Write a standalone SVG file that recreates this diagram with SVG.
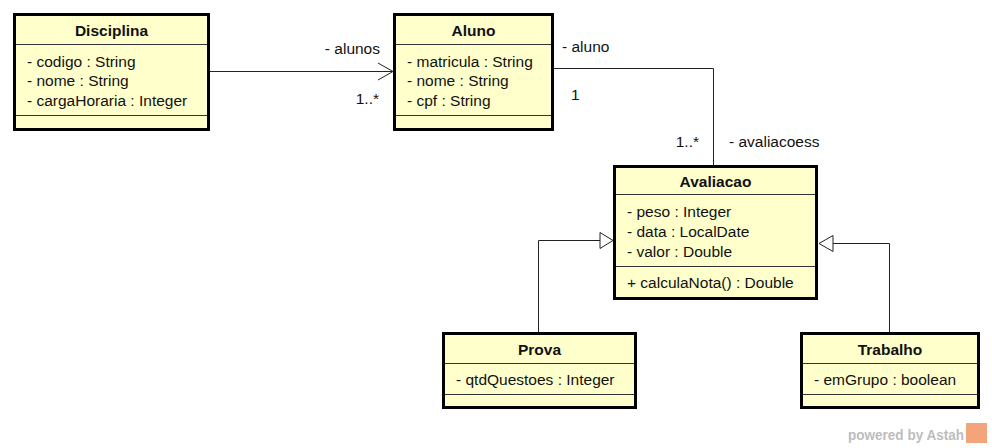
<svg xmlns="http://www.w3.org/2000/svg" width="992" height="448" viewBox="0 0 992 448">
<style>
.box{fill:#FFFFCC;stroke:#000;stroke-width:3}
.sep{stroke:#333;stroke-width:1}
.t{font-family:"Liberation Sans",Arial,sans-serif;font-size:15.5px;fill:#111}
.b{font-weight:bold;text-anchor:middle}
.c{fill:none;stroke:#222;stroke-width:1}
.wm{font-family:"Liberation Sans",Arial,sans-serif;font-size:14px;font-weight:bold;fill:#BDBDBD}
</style>
<rect width="992" height="448" fill="#fff"/>
<g id="connectors">
  <line class="c" x1="210" y1="71.5" x2="392" y2="71.5"/>
  <polyline class="c" points="378,63 393,71.5 378,80"/>
  <polyline class="c" points="554,68.5 713.5,68.5 713.5,165"/>
  <polyline class="c" points="538.5,332 538.5,240.5 600,240.5"/>
  <polygon class="c" points="600,232.5 613,240.5 600,248.5" style="fill:#fff"/>
  <polyline class="c" points="889.5,332 889.5,243.5 833,243.5"/>
  <polygon class="c" points="833,235.5 819,243.5 833,251.5" style="fill:#fff"/>
  <text class="t" x="380" y="54" text-anchor="end">- alunos</text>
  <text class="t" x="379" y="104" text-anchor="end">1..*</text>
  <text class="t" x="562" y="52">- aluno</text>
  <text class="t" x="571" y="100">1</text>
  <text class="t" x="699" y="147" text-anchor="end">1..*</text>
  <text class="t" x="729" y="147">- avaliacoess</text>
</g>
<g id="Disciplina">
  <rect class="box" x="14.5" y="14.5" width="194" height="115"/>
  <line class="sep" x1="16" y1="44.5" x2="207" y2="44.5"/>
  <line class="sep" x1="16" y1="115.5" x2="207" y2="115.5"/>
  <text class="t b" x="111.5" y="36">Disciplina</text>
  <text class="t" x="27" y="67">- codigo : String</text>
  <text class="t" x="27" y="86">- nome : String</text>
  <text class="t" x="27" y="106">- cargaHoraria : Integer</text>
</g>
<g id="Aluno">
  <rect class="box" x="394.5" y="14.5" width="158" height="115"/>
  <line class="sep" x1="396" y1="44.5" x2="551" y2="44.5"/>
  <line class="sep" x1="396" y1="115.5" x2="551" y2="115.5"/>
  <text class="t b" x="473.5" y="36">Aluno</text>
  <text class="t" x="407" y="67">- matricula : String</text>
  <text class="t" x="407" y="86">- nome : String</text>
  <text class="t" x="407" y="106">- cpf : String</text>
</g>
<g id="Avaliacao">
  <rect class="box" x="614.5" y="166.5" width="202" height="132"/>
  <line class="sep" x1="616" y1="194.5" x2="815" y2="194.5"/>
  <line class="sep" x1="616" y1="266.5" x2="815" y2="266.5"/>
  <text class="t b" x="715.5" y="187">Avaliacao</text>
  <text class="t" x="627" y="217">- peso : Integer</text>
  <text class="t" x="627" y="237">- data : LocalDate</text>
  <text class="t" x="627" y="257">- valor : Double</text>
  <text class="t" x="627" y="288">+ calculaNota() : Double</text>
</g>
<g id="Prova">
  <rect class="box" x="443.5" y="333.5" width="192" height="74"/>
  <line class="sep" x1="445" y1="363.5" x2="634" y2="363.5"/>
  <line class="sep" x1="445" y1="394.5" x2="634" y2="394.5"/>
  <text class="t b" x="539.5" y="355">Prova</text>
  <text class="t" x="456" y="385">- qtdQuestoes : Integer</text>
</g>
<g id="Trabalho">
  <rect class="box" x="801.5" y="333.5" width="177" height="74"/>
  <line class="sep" x1="803" y1="363.5" x2="977" y2="363.5"/>
  <line class="sep" x1="803" y1="394.5" x2="977" y2="394.5"/>
  <text class="t b" x="890" y="355">Trabalho</text>
  <text class="t" x="814" y="385">- emGrupo : boolean</text>
</g>
<g id="watermark">
  <text class="wm" x="848" y="440" textLength="116" lengthAdjust="spacingAndGlyphs">powered by Astah</text>
  <rect x="966" y="423" width="21" height="20" fill="#F4A47A"/>
</g>
</svg>
